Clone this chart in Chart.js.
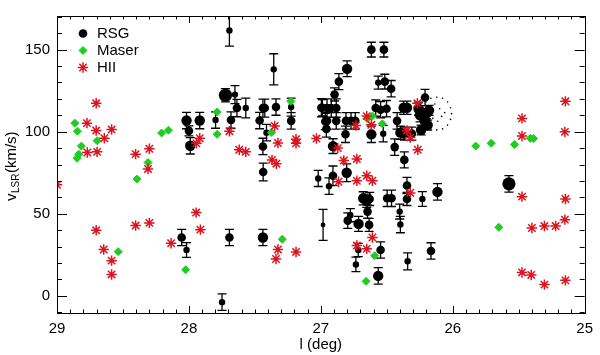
<!DOCTYPE html>
<html><head><meta charset="utf-8">
<script src="https://cdn.jsdelivr.net/npm/chart.js@4.4.1/dist/chart.umd.min.js"></script>
<style>html,body{margin:0;padding:0;background:#fff}#wrap{width:600px;height:355px}</style>
</head><body><div id="wrap"><canvas id="c" width="600" height="355"></canvas></div>
<script>
// ---- data ----
const xTickVals = [29, 28, 27, 26, 25];
const yTickVals = [0, 50, 100, 150];
const legendLabels = ['RSG', 'Maser', 'HII'];

// Red supergiants: longitude (deg), velocity (km/s), velocity error, symbol size class
const rsgL = [28.018,27.918,28.0,27.99,28.055,28.018,27.693,27.357,27.723,27.651,27.636,27.569,27.798,27.681,27.464,27.439,27.425,27.34,27.225,27.225,26.988,26.966,27.412,27.439,27.437,27.02,26.983,27.693,27.439,27.749,26.617,26.522,26.801,26.863,26.896,26.565,26.515,26.467,26.996,26.953,26.921,26.883,26.953,26.883,26.809,26.771,26.739,26.584,26.547,26.502,26.422,26.372,26.347,26.21,26.26,26.248,26.21,26.958,26.813,26.617,26.527,26.397,26.365,26.31,26.908,26.44,26.367,26.938,26.908,26.804,26.347,26.347,26.116,26.23,26.679,26.652,26.63,26.646,26.497,26.464,26.402,26.397,26.796,26.776,26.714,26.634,26.716,26.734,26.547,26.565,26.342,26.165,25.574,26.24,26.2,26.18,26.19];
const rsgV = [106.8,106.8,100.5,91.4,35.5,27.9,161.7,138.0,122.2,122.6,114.4,114.4,107.1,107.1,106.8,114.4,114.4,115.0,115.0,106.6,114.6,106.2,99.4,91.0,75.4,71.5,43.2,35.5,35.5,-3.9,150.0,150.0,138.3,130.5,122.7,129.9,130.5,126.2,114.6,114.4,114.4,114.4,106.6,106.6,106.6,106.6,106.6,114.4,113.4,114.0,106.6,114.6,114.6,120.8,114.0,110.0,106.2,101.7,98.4,98.4,98.8,99.4,98.8,98.8,91.2,90.6,82.8,66.8,73.1,75.0,67.2,59.0,63.3,59.0,59.4,57.9,59.0,51.3,59.4,59.4,51.3,43.4,45.8,49.1,43.8,43.2,27.9,19.1,27.9,12.1,21.0,27.3,68.2,101.0,111.0,113.0,104.0];
const rsgErr = [5,5,3,5,5,4.5,9.5,9.5,4,5.5,5.3,6,5,5,5,5.5,5.5,5,5.5,5,5,5,5,5,5.4,4.9,9.5,5,5,5,4.5,4.5,4.8,4.9,4,4,4.5,5,5.6,5.6,5.6,5.6,5,5,5,5,5,5,5,5,5,4,4,5,4,4,4,5,5,5,5,4,4,4,4.5,5,4.9,5,6,5.4,5,4,5,4.5,4,4,4,4,5,5,4.5,5,4.7,4,4.6,4,4,4.4,5,5,5.2,5,5,3,3,3,3];
const rsgSize = [4,4,3,4,3,2,2,2,5,2,3,2,2,3,3,3,3,3,2,3,3,3,2,3,3,2,1,3,4,2,3,3,4,3,3,2,3,3,3,3,3,3,3,3,3,3,3,3,3,3,3,4,4,3,4,4,4,3,3,4,2,4,4,3,4,3,3,2,3,4,3,3,4,2,4,4,3,3,3,3,2,2,3,2,4,3,2,2,3,4,2,3,5,4,4,4,4];

// Faint cluster members (tiny dots)
const clusL = [26.121,26.077,26.039,26.017,26.009,26.017,26.039,26.077,26.121,26.166,26.204,26.226,26.234,26.226,26.204,26.166,26.136,26.099,26.084,26.151,26.114,26.061,26.174];
const clusV = [121.0,120.4,118.1,114.6,111.0,107.5,104.0,101.7,101.1,101.7,104.0,107.5,111.0,114.6,118.1,120.4,116.9,114.0,109.3,108.1,106.4,111.6,112.8];

// Masers
const maserL = [28.865,28.845,28.815,28.835,28.848,28.696,28.207,28.155,28.394,28.31,28.536,28.025,27.786,27.227,27.786,27.375,27.292,26.609,26.534,26.65,26.592,26.657,25.826,25.709,25.532,25.412,25.387,25.651];
const maserV = [105.2,100.3,91.2,86.3,83.8,94.5,99.2,100.9,71.1,81.2,26.9,15.8,112.0,118.5,98.4,99.5,34.5,109.5,104.8,108.0,24.4,8.8,91.2,92.9,92.2,96.0,95.8,41.7];

// HII regions
const hiiL = [28.703,28.773,28.703,28.586,28.641,28.77,28.696,28.404,28.30,28.31,29.0,28.703,28.404,28.30,27.945,27.913,28.135,28.646,28.586,28.586,27.918,27.943,27.693,27.619,27.569,27.325,27.35,27.188,27.188,27.033,27.37,27.337,27.325,27.34,27.188,26.734,26.652,26.617,26.268,26.871,26.826,26.727,26.727,26.652,26.609,26.866,26.322,26.265,26.322,26.609,26.727,26.652,26.347,25.475,25.146,25.475,25.15,25.475,25.146,25.4,25.305,25.22,25.15,25.475,25.405,25.305,25.146];
const hiiV = [117.3,105.2,100.7,101.3,96.0,87.3,87.7,86.3,89.6,77.3,67.6,39.9,42.8,44.4,50.7,40.3,32.0,28.2,21.4,13.0,96.0,92.9,100.3,89.0,87.7,93.1,103.5,95.4,92.9,95.8,82.8,80.5,28.2,22.4,26.7,103.8,109.5,104.2,117.3,90.0,82.4,83.4,70.1,73.1,70.1,69.5,62.7,89.0,96.4,35.5,30.6,28.6,100.7,108.1,118.5,97.4,99.9,60.4,59.0,41.3,42.5,42.5,46.4,14.2,12.7,6.8,9.4];

// ---- styles ----
const RED = '#dc1420', GREEN = '#20cc20', BLACK = '#000';
const sizeRadius = {1: 2.4, 2: 3.2, 3: 4.3, 4: 5.2, 5: 6.6};
const FONT = "'Liberation Sans', Arial, sans-serif";

const pts = (xs, ys) => xs.map((x, i) => ({x: x, y: ys[i]}));

const frameTicks = {
  id: 'frameTicks',
  afterDraw(chart) {
    const {ctx, chartArea: a, scales: {x, y}} = chart;
    ctx.save();
    ctx.strokeStyle = BLACK; ctx.lineWidth = 1;
    ctx.strokeRect(Math.round(a.left) + 0.5, Math.round(a.top) + 0.5, Math.round(a.right - a.left), Math.round(a.bottom - a.top));
    ctx.beginPath();
    for (let i = Math.round(x.min * 10); i <= Math.round(x.max * 10); i++) {
      const px = Math.round(x.getPixelForValue(i / 10)) + 0.5;
      const len = (i % 10 === 0) ? 7 : 3.5;
      ctx.moveTo(px, a.bottom); ctx.lineTo(px, a.bottom - len);
      ctx.moveTo(px, a.top); ctx.lineTo(px, a.top + len);
    }
    for (let v = -10; v <= 170; v += 10) {
      const py = Math.round(y.getPixelForValue(v)) + 0.5;
      const len = (v % 50 === 0) ? 10 : 5;
      ctx.moveTo(a.left, py); ctx.lineTo(a.left + len, py);
      ctx.moveTo(a.right, py); ctx.lineTo(a.right - len, py);
    }
    ctx.stroke();

    // y-axis title with subscript
    ctx.fillStyle = BLACK;
    ctx.translate(16, 201);
    ctx.rotate(-Math.PI / 2);
    ctx.textBaseline = 'alphabetic'; ctx.textAlign = 'left';
    ctx.font = '15px ' + FONT;
    ctx.fillText('v', 0, 0);
    let w = ctx.measureText('v').width;
    ctx.font = '10px ' + FONT;
    ctx.fillText('LSR', w + 0.5, 3);
    w += ctx.measureText('LSR').width + 1;
    ctx.font = '15px ' + FONT;
    ctx.fillText('(km/s)', w, 0);
    ctx.restore();

    // legend inside plot
    const items = [
      {style: 'circle', r: 4.3, fill: BLACK, stroke: BLACK, bw: 0},
      {style: 'rectRot', r: 4, fill: GREEN, stroke: GREEN, bw: 1},
      {style: 'star', r: 5.2, fill: 'rgba(0,0,0,0)', stroke: RED, bw: 1.5}
    ];
    ctx.save();
    items.forEach((it, i) => {
      const mx = a.left + 26, my = a.top + 17.5 + i * 17;
      ctx.fillStyle = it.fill; ctx.strokeStyle = it.stroke; ctx.lineWidth = it.bw;
      Chart.helpers.drawPoint(ctx, {pointStyle: it.style, radius: it.r, rotation: 0, borderWidth: it.bw}, mx, my);
      ctx.fillStyle = BLACK;
      ctx.font = '15px ' + FONT;
      ctx.textBaseline = 'middle'; ctx.textAlign = 'left';
      ctx.fillText(legendLabels[i], a.left + 40, my);
    });
    ctx.restore();
  }
};

const errorBars = {
  id: 'errorBars',
  beforeDatasetsDraw(chart) {
    const {ctx, chartArea: a, scales: {x, y}} = chart;
    ctx.save();
    ctx.beginPath(); ctx.rect(a.left, a.top, a.right - a.left, a.bottom - a.top); ctx.clip();
    ctx.strokeStyle = BLACK; ctx.lineWidth = 1.3;
    ctx.beginPath();
    rsgL.forEach((l, i) => {
      const px = x.getPixelForValue(l);
      const top = y.getPixelForValue(rsgV[i] + rsgErr[i]);
      const bot = y.getPixelForValue(rsgV[i] - rsgErr[i]);
      ctx.moveTo(px, top); ctx.lineTo(px, bot);
      ctx.moveTo(px - 4.5, top); ctx.lineTo(px + 4.5, top);
      ctx.moveTo(px - 4.5, bot); ctx.lineTo(px + 4.5, bot);
    });
    ctx.stroke();
    ctx.restore();
  }
};

new Chart(document.getElementById('c'), {
  type: 'scatter',
  data: {
    datasets: [
      {label: legendLabels[0], data: pts(rsgL, rsgV), order: 3, pointStyle: 'circle',
       pointRadius: c => sizeRadius[rsgSize[c.dataIndex]], backgroundColor: BLACK, borderColor: BLACK, borderWidth: 0},
      {label: 'cluster', data: pts(clusL, clusV), order: 4, pointStyle: 'circle',
       pointRadius: 0.8, backgroundColor: BLACK, borderColor: BLACK, borderWidth: 0},
      {label: legendLabels[1], data: pts(maserL, maserV), order: 2, pointStyle: 'rectRot',
       pointRadius: 4, backgroundColor: GREEN, borderColor: GREEN, borderWidth: 1},
      {label: legendLabels[2], data: pts(hiiL, hiiV), order: 1, pointStyle: 'star',
       pointRadius: 5.2, backgroundColor: 'rgba(0,0,0,0)', borderColor: RED, borderWidth: 1.5}
    ]
  },
  options: {
    responsive: false, animation: false, devicePixelRatio: 1, events: [],
    layout: {padding: {top: 3, right: 8, left: 0, bottom: 0}},
    plugins: {legend: {display: false}, tooltip: {enabled: false}},
    scales: {
      x: {
        type: 'linear', reverse: true, min: 25, max: 29, position: 'bottom',
        grid: {display: false, drawTicks: false}, border: {display: false},
        ticks: {color: BLACK, padding: 7, font: {family: FONT, size: 15}, callback: v => String(v)},
        afterBuildTicks: s => { s.ticks = xTickVals.map(v => ({value: v})); },
        afterFit: s => { s.height = 42; },
        title: {display: true, text: 'l (deg)', color: BLACK, font: {family: FONT, size: 15}, padding: {top: 0, bottom: 1}}
      },
      y: {
        type: 'linear', min: -10.5, max: 170.5, position: 'left',
        grid: {display: false, drawTicks: false}, border: {display: false},
        ticks: {color: BLACK, padding: 7, font: {family: FONT, size: 15}, callback: v => String(v)},
        afterBuildTicks: s => { s.ticks = yTickVals.map(v => ({value: v})); },
        afterFit: s => { s.width = 57; }
      }
    }
  },
  plugins: [errorBars, frameTicks]
});
</script>
</body></html>
